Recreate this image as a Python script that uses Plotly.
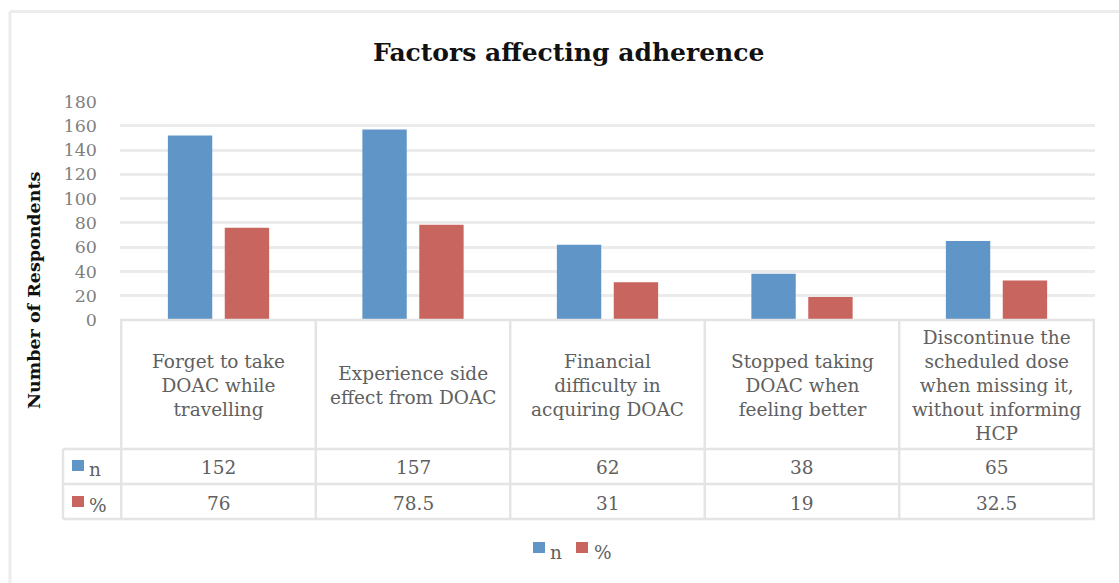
import plotly.graph_objects as go

# Chart data
categories = [
    "Forget to take<br>DOAC while<br>travelling",
    "Experience side<br>effect from DOAC",
    "Financial<br>difficulty in<br>acquiring DOAC",
    "Stopped taking<br>DOAC when<br>feeling better",
    "Discontinue the<br>scheduled dose<br>when missing it,<br>without informing<br>HCP",
]
n_values = [152, 157, 62, 38, 65]
pct_values = [76, 78.5, 31, 19, 32.5]
series_names = ["n", "%"]
y_ticks = [0, 20, 40, 60, 80, 100, 120, 140, 160, 180]

W, H = 1119, 583
BLUE = "#6096c7"
RED = "#c9655f"
GRID = "#ebebeb"
TEXT_GRAY = "#606060"
FONT = "DejaVu Serif"


def fx(px):
    return px / W


def fy(px):
    # pixel row -> paper fraction
    return 1 - px / H


# layout geometry in pixels
PLOT_L, PLOT_R = 120, 1095
PLOT_T, PLOT_B = 101.5, 320
TABLE_LEFT = 63
ROW_N_TOP, ROW_P_TOP, TABLE_BOT = 449, 484, 519

fig = go.Figure()
fig.add_trace(go.Bar(x=categories, y=n_values, name=series_names[0],
                     marker=dict(color=BLUE, line=dict(width=0))))
fig.add_trace(go.Bar(x=categories, y=pct_values, name=series_names[1],
                     marker=dict(color=RED, line=dict(width=0))))

shapes = []
line_style = dict(color="#e4e4e4", width=2.5)

# outer chart frame
shapes.append(dict(type="line", xref="paper", yref="paper",
                   x0=fx(10), x1=fx(W + 5), y0=fy(11.5), y1=fy(11.5),
                   line=dict(color="#ececec", width=3)))
shapes.append(dict(type="line", xref="paper", yref="paper",
                   x0=fx(10), x1=fx(10), y0=fy(11.5), y1=fy(H + 5),
                   line=dict(color="#ececec", width=3)))

# horizontal table rules
shapes.append(dict(type="line", xref="paper", yref="paper",
                   x0=fx(PLOT_L), x1=fx(PLOT_R), y0=fy(PLOT_B), y1=fy(PLOT_B), line=line_style))
for yy in (ROW_N_TOP, ROW_P_TOP, TABLE_BOT):
    shapes.append(dict(type="line", xref="paper", yref="paper",
                       x0=fx(TABLE_LEFT), x1=fx(PLOT_R), y0=fy(yy), y1=fy(yy), line=line_style))

# vertical table rules between categories
for i in range(len(categories) + 1):
    shapes.append(dict(type="line", xref="x", yref="paper",
                       x0=i - 0.5, x1=i - 0.5, y0=fy(PLOT_B), y1=fy(TABLE_BOT), line=line_style))
shapes.append(dict(type="line", xref="paper", yref="paper",
                   x0=fx(TABLE_LEFT), x1=fx(TABLE_LEFT), y0=fy(ROW_N_TOP), y1=fy(TABLE_BOT),
                   line=line_style))

colors = (BLUE, RED)
row_mid = (467, 503)

# series keys inside the table's row header
for col, mid in zip(colors, row_mid):
    shapes.append(dict(type="rect", xref="paper", yref="paper",
                       x0=fx(72), x1=fx(84), y0=fy(mid - 7), y1=fy(mid + 4),
                       fillcolor=col, line=dict(width=0)))

# legend below the table
legend_keys = ((533, 550), (576, 594))
for col, (kx, tx) in zip(colors, legend_keys):
    shapes.append(dict(type="rect", xref="paper", yref="paper",
                       x0=fx(kx), x1=fx(kx + 12), y0=fy(547 - 5), y1=fy(547 + 6),
                       fillcolor=col, line=dict(width=0)))

annotations = []
cell_font = dict(family=FONT, size=18.5, color=TEXT_GRAY)

# category header cells
for cat in categories:
    annotations.append(dict(xref="x", yref="paper", x=cat, y=fy(385), text=cat,
                            showarrow=False, xanchor="center", yanchor="middle",
                            align="center", font=cell_font))

# value rows
for cat, nv, pv in zip(categories, n_values, pct_values):
    annotations.append(dict(xref="x", yref="paper", x=cat, y=fy(row_mid[0]), text=f"{nv:g}",
                            showarrow=False, xanchor="center", yanchor="middle", font=cell_font))
    annotations.append(dict(xref="x", yref="paper", x=cat, y=fy(row_mid[1]), text=f"{pv:g}",
                            showarrow=False, xanchor="center", yanchor="middle", font=cell_font))

# row labels
for name, yy in zip(series_names, row_mid):
    annotations.append(dict(xref="paper", yref="paper", x=fx(87), y=fy(yy + 2), text=name,
                            showarrow=False, xanchor="left", yanchor="middle", font=cell_font))

# legend labels
for name, (kx, tx) in zip(series_names, legend_keys):
    annotations.append(dict(xref="paper", yref="paper", x=fx(tx - 2), y=fy(552), text=name,
                            showarrow=False, xanchor="left", yanchor="middle", font=cell_font))

# title
annotations.append(dict(xref="paper", yref="paper", x=fx(568), y=fy(52),
                        text="<b>Factors affecting adherence</b>", showarrow=False,
                        xanchor="center", yanchor="middle",
                        font=dict(family=FONT, size=25, color="#111111")))

# y-axis title
annotations.append(dict(xref="paper", yref="paper", x=fx(34), y=fy(290),
                        text="<b>Number of Respondents</b>", showarrow=False, textangle=-90,
                        xanchor="center", yanchor="middle",
                        font=dict(family=FONT, size=17.5, color="#111111")))

fig.update_layout(
    width=W, height=H,
    margin=dict(l=0, r=0, t=0, b=0),
    paper_bgcolor="white", plot_bgcolor="white",
    barmode="group", bargap=0.415, bargroupgap=0.22,
    showlegend=False,
    xaxis=dict(domain=[fx(PLOT_L), fx(PLOT_R)], showticklabels=False, showgrid=False,
               zeroline=False, showline=False, ticks="", automargin=False),
    yaxis=dict(domain=[fy(PLOT_B), fy(PLOT_T)], range=[0, 180], tickvals=y_ticks,
               showgrid=True, gridcolor=GRID, gridwidth=2.5, zeroline=False, showline=False,
               ticks="", ticklabelstandoff=22, automargin=False,
               tickfont=dict(family=FONT, size=17.5, color="#7f7f7f")),
    shapes=shapes,
    annotations=annotations,
)

fig.write_html("out.html")
